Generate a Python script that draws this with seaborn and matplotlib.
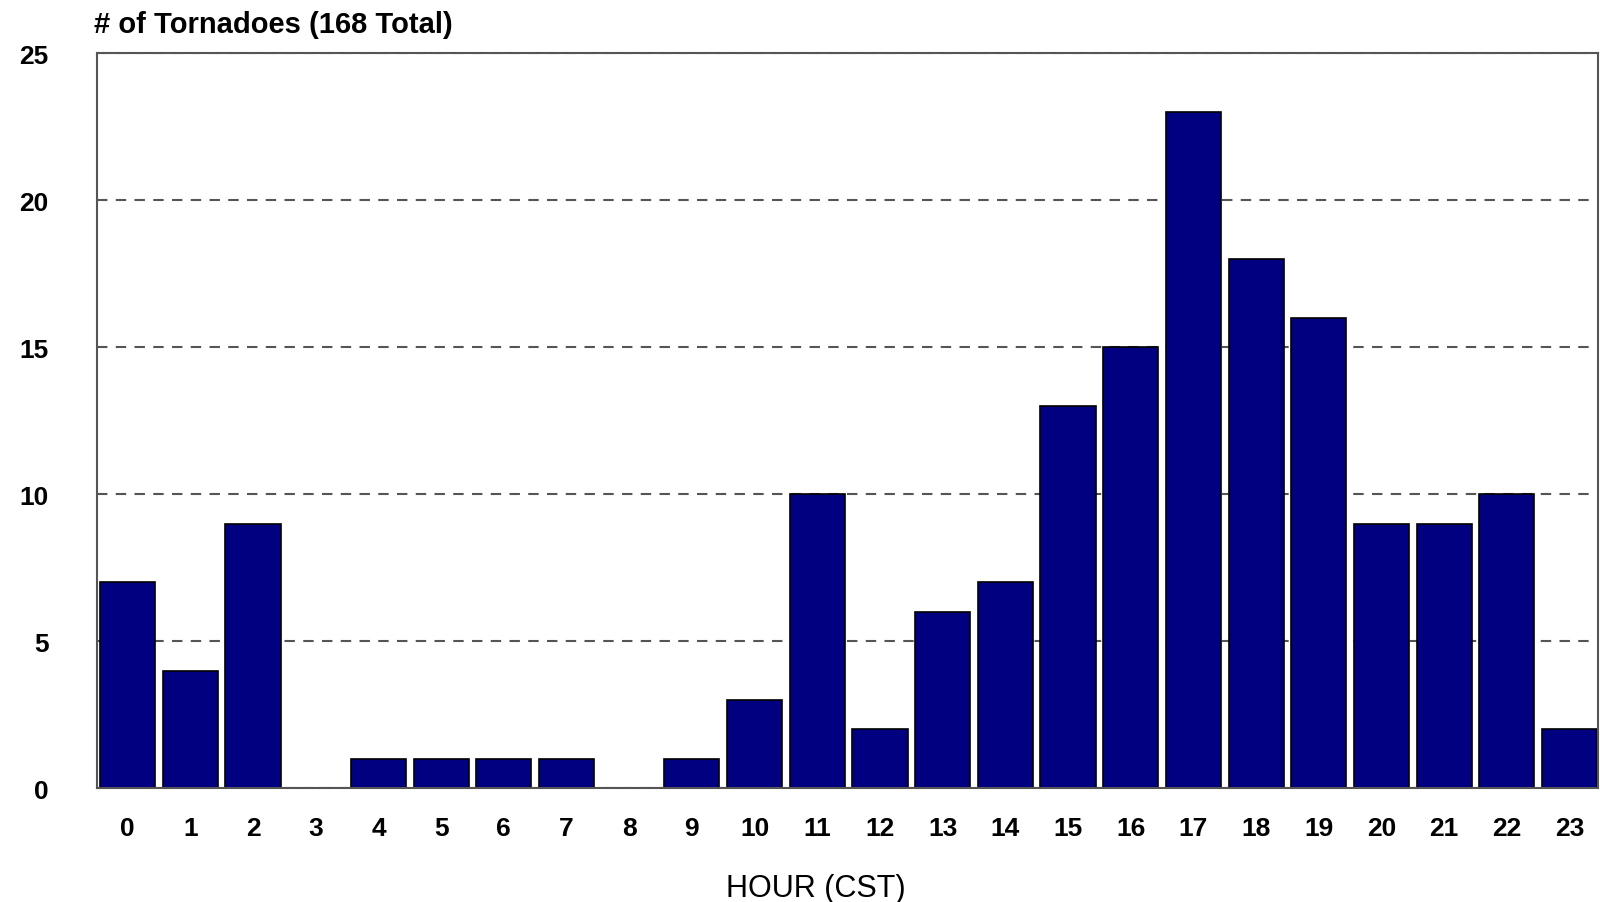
import matplotlib
matplotlib.use('Agg')
import matplotlib.pyplot as plt
import seaborn as sns
import pandas as pd

sns.set_style('white')
plt.rcParams['font.family'] = ['Liberation Sans', 'DejaVu Sans']

# tornado counts by hour of day
hours = [str(h) for h in range(24)]
counts = [7, 4, 9, 0, 1, 1, 1, 1, 0, 1, 3, 10, 2, 6, 7, 13, 15, 23, 18, 16, 9, 9, 10, 2]
y_ticks = [0, 5, 10, 15, 20, 25]

df = pd.DataFrame({'hour': hours, 'count': counts})

fig = plt.figure(figsize=(16, 9.03), dpi=100)
ax = fig.add_axes([0.0606, 0.126, 0.938, 0.814])

sns.barplot(data=df, x='hour', y='count', order=hours, color='#000080',
            saturation=1, edgecolor='black', linewidth=1.2, width=0.88, ax=ax)

ax.set_xlim(-0.49, 23.45)
ax.set_ylim(0, 25)
ax.set_yticks(y_ticks)
ax.set_yticklabels([str(t) for t in y_ticks], fontsize=19, fontweight='bold', color='black')
ax.set_xticks(range(len(hours)))
ax.set_xticklabels(hours, fontsize=19, fontweight='bold', color='black')
ax.tick_params(axis='both', length=0)
ax.tick_params(axis='y', pad=35)
ax.tick_params(axis='x', pad=20)

ax.set_axisbelow(True)
ax.yaxis.grid(True, linestyle=(0, (5, 4)), color='#555555', linewidth=1.5)
ax.xaxis.grid(False)

for s in ax.spines.values():
    s.set_visible(True)
    s.set_color('#555555')
    s.set_linewidth(1.5)

ax.set_ylabel('')
ax.set_xlabel('HOUR (CST)', fontsize=22, color='black')
ax.xaxis.set_label_coords(0.479, -0.115)
fig.text(0.059, 0.972, '# of Tornadoes (168 Total)', fontsize=21,
         fontweight='bold', ha='left', va='center', color='black')

fig.savefig('out.png', dpi=100)
plt.close(fig)
